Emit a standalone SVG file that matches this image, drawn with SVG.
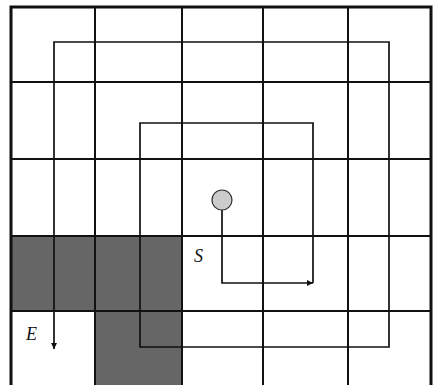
<svg xmlns="http://www.w3.org/2000/svg" width="437" height="385" viewBox="0 0 437 385">
<style>
.grid{stroke:#111;stroke-width:2;fill:none}
.border{stroke:#111;stroke-width:3;fill:none}
.path{stroke:#111;stroke-width:1.7;fill:none}
.lbl{font-family:"Liberation Serif",serif;font-style:italic;font-size:18px;fill:#111}
</style>
<defs>
<marker id="ah" viewBox="0 0 10 10" refX="10" refY="5" markerWidth="8" markerHeight="6" markerUnits="userSpaceOnUse" orient="auto">
<path d="M0,0 L10,5 L0,10 z" fill="#111"/>
</marker>
</defs>
<rect width="437" height="385" fill="#fff"/>
<g id="shaded">
<rect x="11" y="236" width="171" height="75" fill="#666"/>
<rect x="95" y="311" width="87" height="74" fill="#666"/>
</g>
<g id="grid">
<line class="grid" x1="95" y1="7" x2="95" y2="385"/>
<line class="grid" x1="182" y1="7" x2="182" y2="385"/>
<line class="grid" x1="263" y1="7" x2="263" y2="385"/>
<line class="grid" x1="348" y1="7" x2="348" y2="385"/>
<line class="grid" x1="11" y1="82" x2="431" y2="82"/>
<line class="grid" x1="11" y1="159" x2="431" y2="159"/>
<line class="grid" x1="11" y1="236" x2="431" y2="236"/>
<line class="grid" x1="11" y1="311" x2="431" y2="311"/>
<rect class="border" x="11" y="7" width="420" height="380"/>
</g>
<g id="connectors">
<path class="path" d="M222,210 V283 H313" marker-end="url(#ah)"/>
<path class="path" d="M313,283 V123 H140 V347 H389 V42 H54 V349" marker-end="url(#ah)"/>
</g>
<g id="start">
<circle cx="222" cy="200" r="10" fill="#ccc" stroke="#333" stroke-width="1.2"/>
<text class="lbl" x="194" y="262">S</text>
</g>
<g id="end">
<text class="lbl" x="26" y="340">E</text>
</g>
</svg>
